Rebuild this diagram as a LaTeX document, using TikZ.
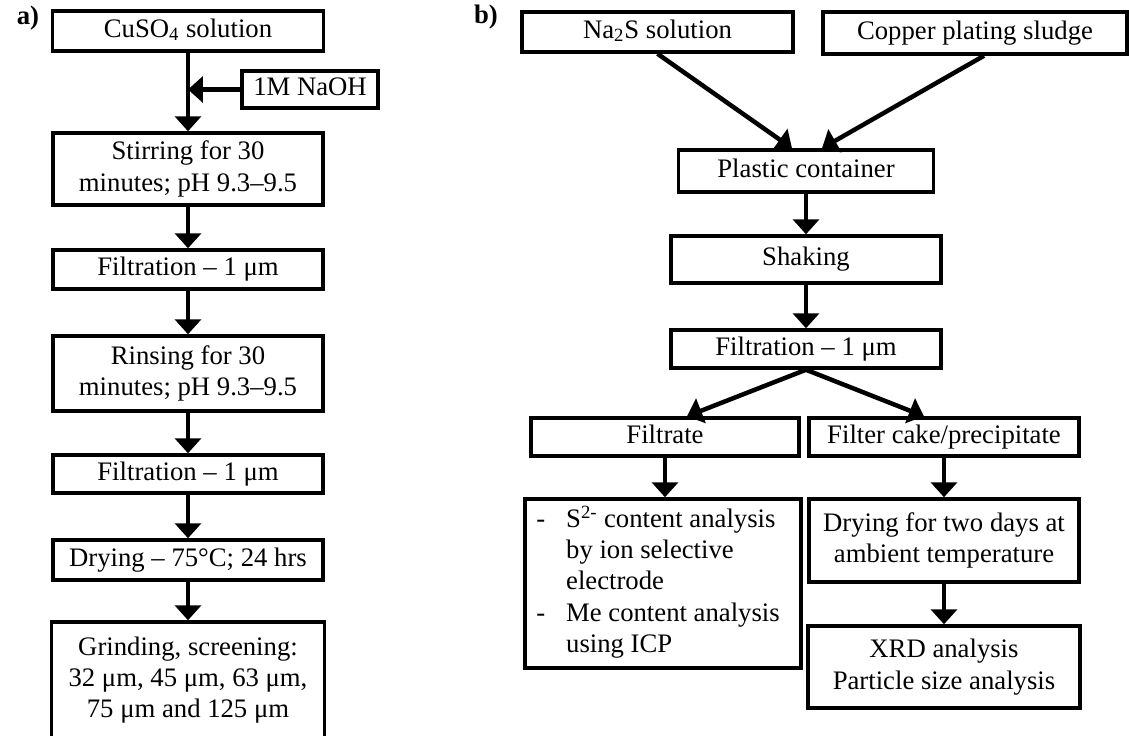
\documentclass[tikz,border=0pt]{standalone}
\usepackage{fontspec}
\setmainfont{Liberation Serif}
\usetikzlibrary{arrows.meta,calc}

\begin{document}
\begin{tikzpicture}[x=0.02cm,y=-0.02cm]
	\tikzset{flowbox/.style={draw, line width=0.07cm, inner sep=0pt,
				align=center, minimum width=5.4cm, minimum height=0.8cm,
				font=\fontsize{15.2}{17.8}\selectfont}}
	\tikzset{oneline/.style={text height=2.1ex, text depth=0.6ex}}
	\tikzset{flowline/.style={line width=0.09cm,
				-{Triangle[width=0.52cm,length=0.3cm]}}}
	\tikzset{panel/.style={font=\fontsize{15.2}{17.8}\selectfont\bfseries}}

	\clip (0,0) rectangle (1129,735);

	% a)
	\node[panel] (la) at (28,18) {a)};
	\node[flowbox, oneline, minimum width=5.42cm] (a1) at (188,31) {CuSO\textsubscript{4} solution};
	\node[flowbox, oneline, minimum width=2.72cm, minimum height=0.74cm] (a0) at (310,89.5) {1M NaOH};
	\node[flowbox, minimum height=1.44cm] (a2) at (188,169) {Stirring for 30\\minutes; pH 9.3–9.5};
	\node[flowbox, oneline, minimum height=0.78cm] (a3) at (188,269.5) {Filtration – 1 μm};
	\node[flowbox, minimum height=1.5cm] (a4) at (188,373.5) {Rinsing for 30\\minutes; pH 9.3–9.5};
	\node[flowbox, oneline, minimum height=0.76cm] (a5) at (188,474) {Filtration – 1 μm};
	\node[flowbox, oneline] (a6) at (188,560) {Drying – 75°C; 24 hrs};
	\node[flowbox, minimum width=5.46cm, minimum height=2.32cm] (a7) at (188,680)
		{Grinding, screening:\\32 μm, 45 μm, 63 μm,\\75 μm and 125 μm};

	\draw[flowline] (a1) -- (a2);
	\draw[flowline] (a0) -- (a0 -| a1);
	\draw[flowline] (a2) -- (a3);
	\draw[flowline] (a3) -- (a4);
	\draw[flowline] (a4) -- (a5);
	\draw[flowline] (a5) -- (a6);
	\draw[flowline] (a6) -- (a7);

	% b)
	\node[panel] (lb) at (486,17) {b)};
	\node[flowbox, oneline, minimum width=5.42cm] (b1) at (657.5,32) {Na\textsubscript{2}S solution};
	\node[flowbox, oneline, minimum width=6.08cm, minimum height=0.84cm] (b2) at (975,33) {Copper plating sludge};
	\node[flowbox, oneline, minimum width=5.1cm, minimum height=0.84cm] (b3) at (806,171) {Plastic container};
	\node[flowbox, oneline, minimum height=0.94cm] (b4) at (806,259.5) {Shaking};
	\node[flowbox, oneline, minimum height=0.76cm] (b5) at (806,349) {Filtration – 1 μm};
	\node[flowbox, oneline, minimum width=5.36cm, minimum height=0.76cm] (b6) at (665,437) {Filtrate};
	\node[flowbox, oneline, minimum height=0.76cm] (b7) at (944,437) {Filter cake/precipitate};
	\node[flowbox, minimum width=5.52cm, minimum height=3.38cm] (b8) at (663,583.5)
		{\begin{tabular}{@{}l@{\hspace{0.42cm}}l@{}}
			- & S\textsuperscript{2-} content analysis\\
			  & by ion selective\\
			  & electrode\\
			- & Me content analysis\\
			  & using ICP
		\end{tabular}\hspace{0.2cm}};
	\node[flowbox, minimum height=1.66cm] (b9) at (944,540.5) {Drying for two days at\\ambient temperature};
	\node[flowbox, minimum width=5.44cm, minimum height=1.64cm] (b10) at (944,667) {XRD analysis\\Particle size analysis};

	\draw[flowline] (b1.south) -- ($(b3.north)+(-14,0)$);
	\draw[flowline] ($(b2.south)+(9,0)$) -- ($(b3.north)+(16,0)$);
	\draw[flowline] (b3) -- (b4);
	\draw[flowline] (b4) -- (b5);
	\draw[flowline] (b5.south) -- ($(b6.north)+(22,0)$);
	\draw[flowline] (b5.south) -- ($(b7.north)+(-20,0)$);
	\draw[flowline] (b6.south) -- (b6.south |- b8.north);
	\draw[flowline] (b7) -- (b9);
	\draw[flowline] (b9) -- (b10);
\end{tikzpicture}
\end{document}
